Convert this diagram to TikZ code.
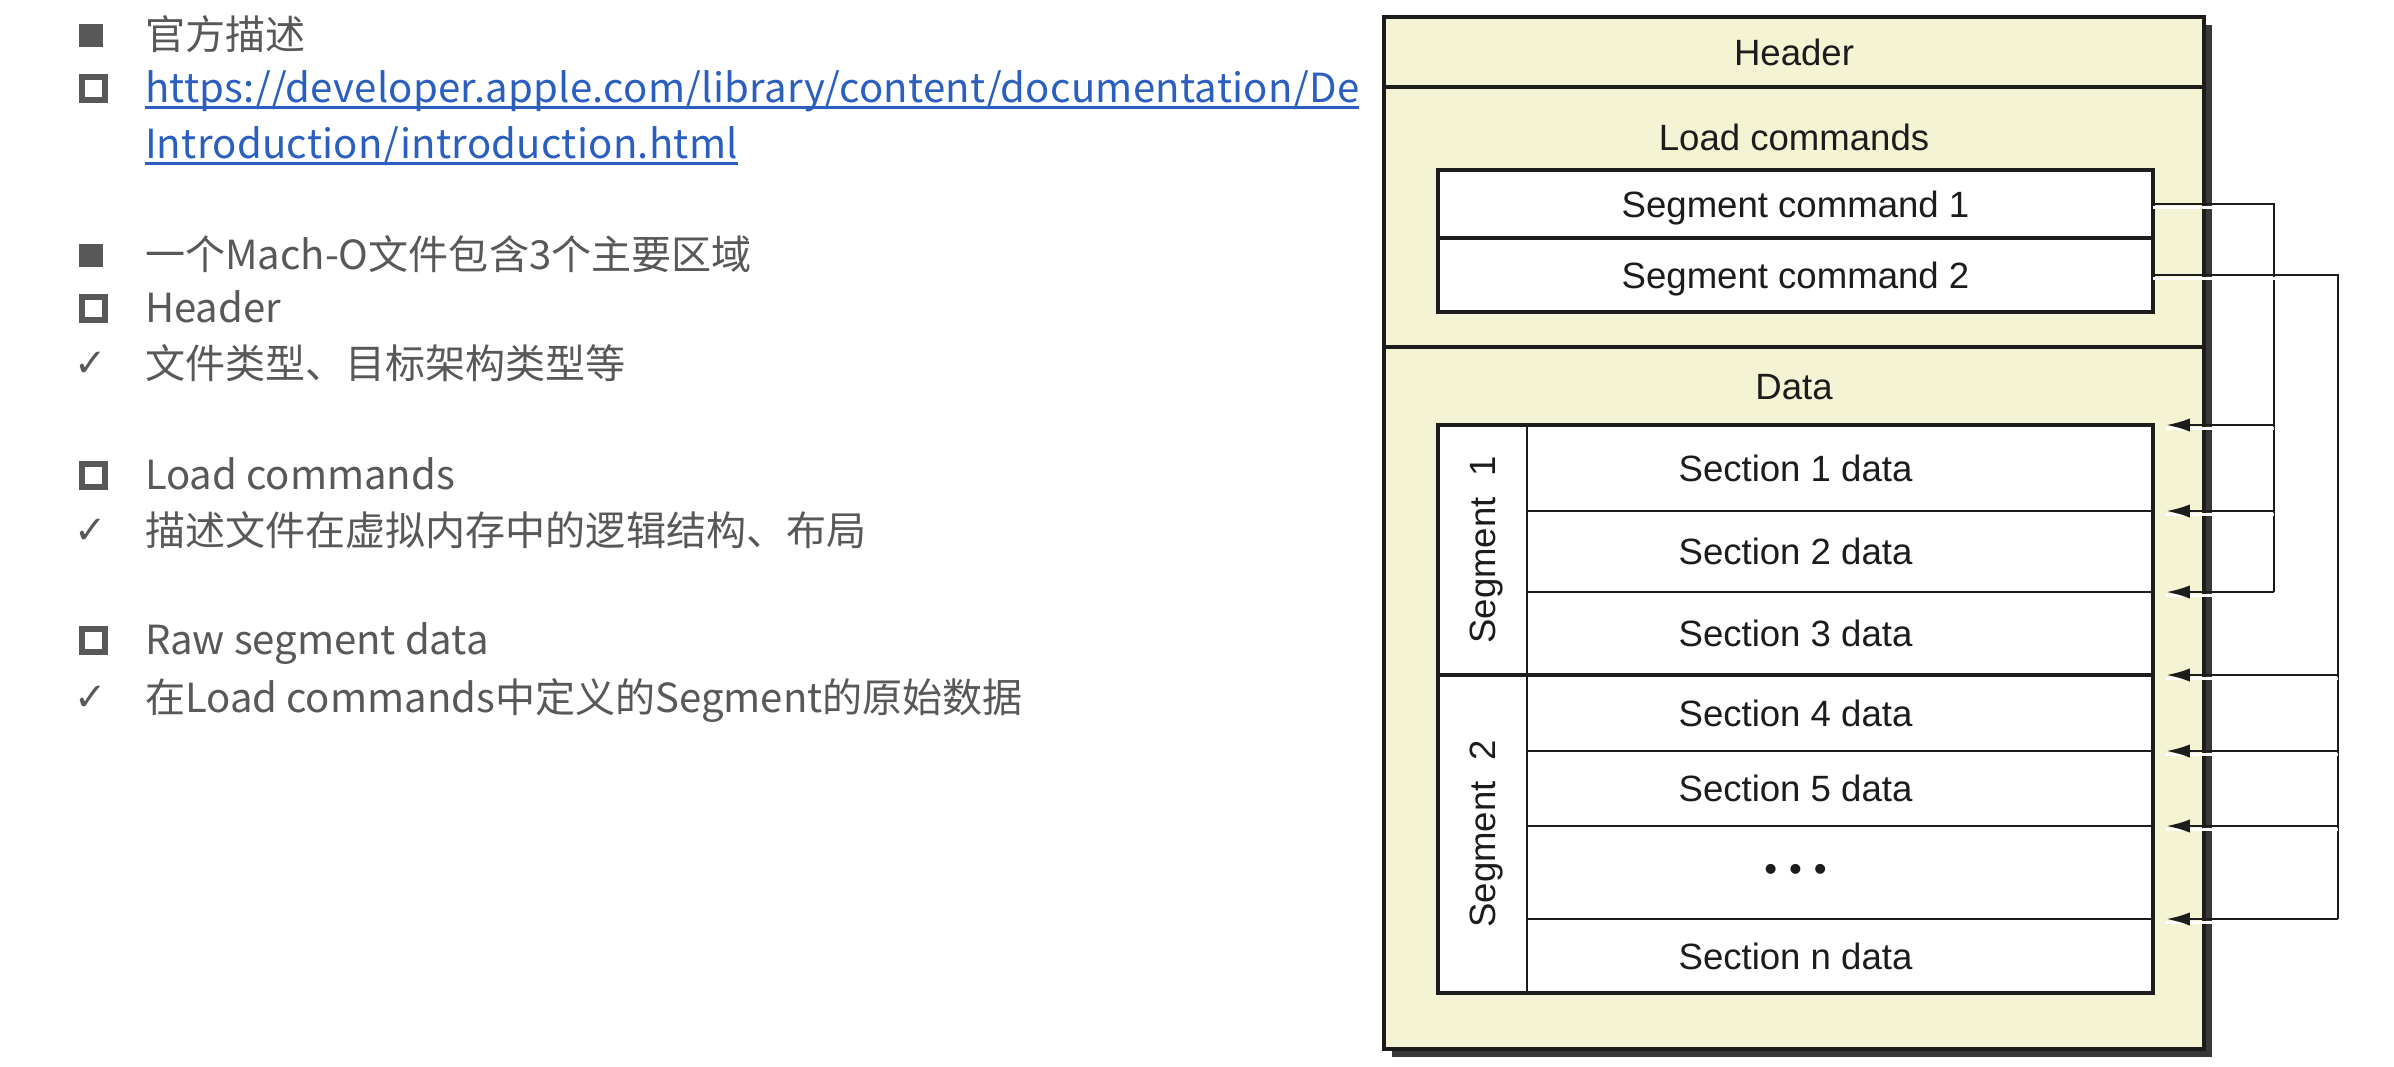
\documentclass[tikz,border=0pt]{standalone}
\usepackage{fontspec}
\setmainfont{Noto Sans CJK SC}
\newfontfamily\diagfont{Liberation Sans}
\newfontfamily\symfont{DejaVu Sans}
\usetikzlibrary{arrows.meta,calc,shadows}

\definecolor{textgray}{HTML}{585858}
\definecolor{linkblue}{HTML}{2A5FBF}
\definecolor{filebeige}{HTML}{F4F4D4}
\definecolor{ink}{HTML}{1C1C1C}

\def\pixel{0.01cm}
\def\boxx{1795.5}
\def\busone{2274}
\def\bustwo{2338}

\begin{document}
\begin{tikzpicture}[x=\pixel, y=-\pixel, inner sep=0pt, outer sep=0pt]
    \tikzstyle{txt}=[anchor=base west, text=textgray, font=\fontsize{11.4}{13}\selectfont]
    \tikzstyle{url}=[txt, text=linkblue, font=\fontsize{11.4}{13}\selectfont\addfontfeature{LetterSpace=0.7}]
    \tikzstyle{uline}=[draw=linkblue, line width=0.85pt]
    \tikzstyle{fullsq}=[rectangle, fill=textgray, minimum width=24*\pixel, minimum height=23*\pixel]
    \tikzstyle{hollowsq}=[rectangle, draw=textgray, line width=6*\pixel, minimum size=23*\pixel]
    \tikzstyle{tick}=[text=textgray, font=\symfont\fontsize{11}{12}\selectfont, execute at begin node={✓}]
    \tikzstyle{lbl}=[text=ink, text depth=0pt, font=\diagfont\fontsize{10.4}{12}\selectfont]
    \tikzstyle{part}=[lbl, rectangle, draw=ink, line width=0.9pt, fill=filebeige, minimum width=820*\pixel]
    \tikzstyle{cmdbox}=[lbl, rectangle, draw=ink, line width=1.15pt, fill=white, minimum width=715*\pixel]
    \tikzstyle{secbox}=[lbl, rectangle, draw=ink, line width=0.8pt, fill=white, minimum width=715*\pixel]
    \tikzstyle{segbox}=[rectangle, draw=ink, line width=0.8pt, fill=white, minimum width=89*\pixel]
    \tikzstyle{seglbl}=[lbl, rotate=90]
    \tikzstyle{link}=[draw=ink, line width=0.8pt, preaction={draw=white, -, line width=0.9pt, transform canvas={yshift=-0.95pt}}]
    \tikzstyle{feed}=[link, -{Latex[length=6.8pt, width=3.8pt]}]

    \fill[white] (0,0) rectangle (2394,1066);
    \useasboundingbox (0,0) rectangle (2394,1066);

    % Draw the bullet list on the left
    \begin{scope}
        \clip (0,0) rectangle (1370,1066);
        \node[fullsq] (l0-mark) at (91,35) {};
        \node[txt] (l0) at (145,49.5) {官方描述};
        \node[hollowsq] (l1-mark) at (93.5,88.5) {};
        \node[url] (l1) at (145,102.5) {https://developer.apple.com/library/content/documentation/De};
        \node[url] (l2) at (145,158) {Introduction/introduction.html};
        \draw[uline] ($(l1.base west)+(0,5)$) -- ($(l1.base east)+(0,5)$);
        \draw[uline] ($(l2.base west)+(0,5)$) -- ($(l2.base east)+(0,5)$);

        \foreach \name/\mark/\x/\y/\txt in {
            l4/fullsq/91/255/一个Mach-O文件包含3个主要区域,
            l5/hollowsq/93.5/308/Header,
            l6/tick/91/364/文件类型、目标架构类型等,
            l8/hollowsq/93.5/475/Load commands,
            l9/tick/91/531/描述文件在虚拟内存中的逻辑结构、布局,
            l11/hollowsq/93.5/640/Raw segment data,
            l12/tick/91/698/在Load commands中定义的Segment的原始数据}
        {
            \node[\mark] (\name-mark) at (\x,\y) {};
            \node[txt] (\name) at (145,\y+14.5) {\txt};
        }
    \end{scope}

    % Draw the file with its three regions
    \node[part, minimum height=1032*\pixel,
        drop shadow={shadow xshift=2.2pt, shadow yshift=-2.2pt, fill=black!78, opacity=1}] (file) at (1794,533) {};
    \node[part, minimum height=70*\pixel] (header) at (1794,52) {Header};
    \node[part, minimum height=260*\pixel] (loads) at (1794,217) {};
    \node[lbl] (loads-title) at (1794,137) {Load commands};
    \node[part, minimum height=702*\pixel] (data) at (1794,698) {};
    \node[lbl] (data-title) at (1794,387) {Data};

    % Draw the load commands
    \node[cmdbox, minimum height=68*\pixel] (cmd1) at (\boxx,204) {Segment command 1};
    \node[cmdbox, minimum height=74*\pixel] (cmd2) at (\boxx,275) {Segment command 2};

    % Draw the sections, then the segments over their left end
    \foreach \name/\top/\bot/\txt in {sec1/425/511/Section 1 data, sec2/511/592/Section 2 data,
            sec3/592/675/Section 3 data, sec4/675/751/Section 4 data, sec5/751/826/Section 5 data,
            secd/826/919/{•\hspace{0.33em}•\hspace{0.33em}•}, secn/919/993/Section n data}
        \node[secbox, minimum height={(\bot-\top)*\pixel}] (\name) at (\boxx,{(\top+\bot)/2}) {\txt};

    \node[segbox, minimum height=250*\pixel] (seg1) at (1482.5,550) {};
    \node[segbox, minimum height=318*\pixel] (seg2) at (1482.5,834) {};
    \node[seglbl] (seg1-title) at (seg1) {Segment~~1};
    \node[seglbl] (seg2-title) at (seg2) {Segment~~2};

    \node[rectangle, draw=ink, line width=1.15pt, minimum width=715*\pixel, minimum height=568*\pixel] (frame) at (\boxx,709) {};
    \draw[draw=ink, line width=0.95pt] (seg2.north west) -- (seg2.north west -| frame.east);

    % Connect every segment command with the sections it describes
    \coordinate (bus1) at (\busone,0);
    \coordinate (bus2) at (\bustwo,0);
    \foreach \name in {sec1,sec2,sec3,sec4,sec5,secd,secn}
        \coordinate (\name-in) at ($(\name.north east)+(13,0)$);

    \draw[link] (cmd1.east) -| (bus1 |- sec3-in);
    \foreach \name in {sec1,sec2,sec3}
        \draw[feed] (bus1 |- \name-in) -- (\name-in);

    \draw[link] (cmd2.east) -| (bus2 |- secn-in);
    \foreach \name in {sec4,sec5,secd,secn}
        \draw[feed] (bus2 |- \name-in) -- (\name-in);
\end{tikzpicture}
\end{document}
